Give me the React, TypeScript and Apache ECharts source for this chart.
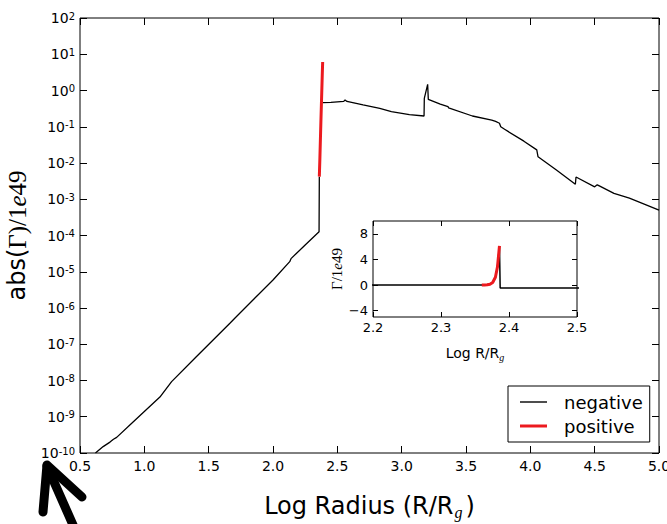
import React, { useEffect, useRef } from "react";
import * as echarts from "echarts";

// Inner region: |Gamma| (negative values), log radius
const innerR = [0.62, 0.68, 0.733, 0.76, 0.785, 0.9, 1.0, 1.121, 1.212, 1.4, 1.665, 1.703, 1.85, 2.0, 2.13, 2.14, 2.25, 2.358, 2.36];
const innerAbsG = [1.0e-10, 1.5e-10, 2.0e-10, 2.4e-10, 2.7e-10, 6.5e-10, 1.4e-9, 3.5e-9, 9.3e-9, 4.4e-8, 3.8e-7, 5.2e-7, 1.74e-6, 5.9e-6, 1.9e-5, 2.3e-5, 5.5e-5, 1.27e-4, 4.2e-3];

// Positive Gamma region
const posR = [2.36, 2.364, 2.368, 2.372, 2.376, 2.38, 2.383, 2.386];
const posG = [0.0042, 0.012, 0.04, 0.13, 0.4, 1.2, 2.8, 6.1];

// Outer region: |Gamma| (negative values)
const outerR = [2.387, 2.45, 2.55, 2.56, 2.575, 2.7, 2.83, 2.92, 3.06, 3.174, 3.176, 3.202, 3.207, 3.3, 3.36, 3.365, 3.55, 3.7, 3.73, 3.76, 3.77, 3.8, 3.95, 4.05, 4.06, 4.2, 4.35, 4.355, 4.5, 4.52, 4.54, 4.65, 4.77, 5.0];
const outerAbsG = [0.46, 0.47, 0.5, 0.55, 0.5, 0.4, 0.32, 0.26, 0.215, 0.198, 0.61, 1.48, 0.57, 0.42, 0.36, 0.33, 0.198, 0.153, 0.14, 0.125, 0.1, 0.085, 0.04, 0.023, 0.0148, 0.0065, 0.0026, 0.0041, 0.0022, 0.0025, 0.0023, 0.00145, 0.00107, 0.0005];

// Axis ticks
const mainXTicks = [0.5, 5.0, 0.5]; // min, max, step
const insetXTicks = [2.2, 2.5, 0.1];
const insetYTicks = [-4, 0, 4, 8];
const insetYRange = [-5, 10];
const legendNames = ["negative", "positive"];

const zip = (xs: number[], ys: number[]) => xs.map((x, i) => [x, ys[i]]);

const innerPts = zip(innerR, innerAbsG);
const outerPts = zip(outerR, outerAbsG);
const posPts = zip(posR, posG);
const fullGamma = [
  ...innerPts.map(([x, v]) => [x, -v]),
  ...posPts,
  ...outerPts.map(([x, v]) => [x, -v]),
];

const BLACK = "#000";
const RED = "#ec1a1f";
const SANS = "DejaVu Sans";
const SERIF = "Liberation Serif";

export default function App() {
  const ref = useRef<HTMLDivElement>(null);
  useEffect(() => {
    const chart = echarts.init(ref.current as HTMLDivElement, null, { renderer: "svg" });
    const tickCommon = { inside: true, length: 7, lineStyle: { color: BLACK, width: 1 } };
    const noLine = { show: false, onZero: false };
    const option: any = {
      animation: false,
      backgroundColor: "#fff",
      textStyle: { fontFamily: SANS },
      grid: [
        { left: 80, top: 18, width: 579, height: 435, show: true, borderColor: BLACK, borderWidth: 1, backgroundColor: "transparent", containLabel: false, outerBoundsMode: "none" },
        { left: 373, top: 221, width: 204, height: 96, show: true, borderColor: BLACK, borderWidth: 1, backgroundColor: "#fff", containLabel: false, outerBoundsMode: "none" },
      ],
      legend: {
        data: [
          { name: legendNames[0], icon: "path://M0,0H27V1.4H0Z" },
          { name: legendNames[1], icon: "path://M0,0H27V3H0Z" },
        ],
        symbolKeepAspect: true,
        orient: "vertical",
        left: 508,
        top: 386,
        padding: [7, 7, 7, 12],
        itemWidth: 27,
        itemHeight: 14,
        itemGap: 6,
        borderColor: BLACK,
        borderWidth: 1,
        borderRadius: 0,
        backgroundColor: "#fff",
        selectedMode: false,
        textStyle: { fontSize: 18, color: BLACK, fontFamily: SANS, padding: [0, 0, 0, 12], lineHeight: 14 },
      },
      xAxis: [
        {
          gridIndex: 0, type: "value", min: mainXTicks[0], max: mainXTicks[1], interval: mainXTicks[2], position: "bottom",
          axisLine: noLine, axisTick: tickCommon, splitLine: { show: false },
          axisLabel: { margin: 6, fontSize: 14, color: BLACK, fontFamily: SANS, showMinLabel: true, showMaxLabel: true, hideOverlap: false, formatter: (v: number) => v.toFixed(1) },
          name: "{n|Log Radius (R/R}{g|g}{n|)}", nameLocation: "middle", nameGap: 43,
          nameTextStyle: {
            rich: {
              n: { fontSize: 24, lineHeight: 24, fontFamily: SANS, color: BLACK, padding: [0, 0, 5, 0] },
              g: { fontSize: 16, lineHeight: 16, fontFamily: SERIF, fontStyle: "italic", color: BLACK, verticalAlign: "bottom", padding: [0, 3, 0, 1] },
            },
          },
        },
        {
          gridIndex: 0, type: "value", min: mainXTicks[0], max: mainXTicks[1], interval: mainXTicks[2], position: "top",
          axisLine: noLine, axisTick: tickCommon, splitLine: { show: false }, axisLabel: { show: false },
        },
        {
          gridIndex: 1, type: "value", min: insetXTicks[0], max: insetXTicks[1], interval: insetXTicks[2], position: "bottom",
          axisLine: noLine, axisTick: { ...tickCommon, length: 5 }, splitLine: { show: false },
          axisLabel: { margin: 4, fontSize: 13, color: BLACK, fontFamily: SANS, showMinLabel: true, showMaxLabel: true, formatter: (v: number) => v.toFixed(1) },
          name: "{n|Log R/R}{g|g}", nameLocation: "middle", nameGap: 31,
          nameTextStyle: {
            rich: {
              n: { fontSize: 14, lineHeight: 14, fontFamily: SANS, color: BLACK, padding: [0, 0, 4, 0] },
              g: { fontSize: 10, lineHeight: 10, fontFamily: SERIF, fontStyle: "italic", color: BLACK, verticalAlign: "bottom" },
            },
          },
        },
        {
          gridIndex: 1, type: "value", min: insetXTicks[0], max: insetXTicks[1], interval: insetXTicks[2], position: "top",
          axisLine: noLine, axisTick: { ...tickCommon, length: 5 }, splitLine: { show: false }, axisLabel: { show: false },
        },
      ],
      yAxis: [
        {
          gridIndex: 0, type: "log", logBase: 10, min: 1e-10, max: 1e2, interval: 1, position: "left",
          axisLine: noLine, axisTick: tickCommon, splitLine: { show: false }, minorTick: { show: false },
          axisLabel: {
            margin: 5, color: BLACK, showMinLabel: true, showMaxLabel: true,
            formatter: (v: number) => "{b|10}{s|" + Math.round(Math.log10(v)) + "}",
            rich: {
              b: { fontSize: 14, lineHeight: 14, fontFamily: SANS, color: BLACK, padding: [4, 0, 4, 0] },
              s: { fontSize: 10, lineHeight: 10, fontFamily: SANS, color: BLACK, verticalAlign: "top" },
            },
          },
          name: "{a|abs(}{b|Γ)/1}{c|e}{b|49}", nameLocation: "middle", nameRotate: 90, nameGap: 37,
          nameTextStyle: {
            rich: {
              a: { fontSize: 24, fontFamily: SANS, color: BLACK },
              b: { fontSize: 25, fontFamily: SERIF, color: BLACK },
              c: { fontSize: 25, fontFamily: SERIF, fontStyle: "italic", color: BLACK },
            },
          },
        },
        {
          gridIndex: 0, type: "log", logBase: 10, min: 1e-10, max: 1e2, interval: 1, position: "right",
          axisLine: noLine, axisTick: tickCommon, splitLine: { show: false }, axisLabel: { show: false },
        },
        {
          gridIndex: 1, type: "value", min: insetYRange[0], max: insetYRange[1], position: "left",
          axisLine: noLine, splitLine: { show: false },
          axisTick: { ...tickCommon, length: 5, customValues: insetYTicks },
          axisLabel: {
            customValues: insetYTicks, margin: 5, fontSize: 13, color: BLACK, fontFamily: SANS,
            formatter: (v: number) => (v < 0 ? "\u2212" + -v : String(v)),
          },
          name: "{b|Γ/1}{i|e}{b|49}", nameLocation: "middle", nameRotate: 90, nameGap: 22,
          nameTextStyle: {
            rich: {
              b: { fontSize: 15, fontFamily: SERIF, color: BLACK },
              i: { fontSize: 15, fontFamily: SERIF, fontStyle: "italic", color: BLACK },
            },
          },
        },
        {
          gridIndex: 1, type: "value", min: insetYRange[0], max: insetYRange[1], position: "right",
          axisLine: noLine, splitLine: { show: false },
          axisTick: { ...tickCommon, length: 5, customValues: insetYTicks },
          axisLabel: { show: false },
        },
      ],
      series: [
        { name: "negative", type: "line", xAxisIndex: 0, yAxisIndex: 0, data: innerPts, symbol: "none", color: BLACK, lineStyle: { color: BLACK, width: 1.3 }, z: 3 },
        { name: "positive", type: "line", xAxisIndex: 0, yAxisIndex: 0, data: posPts, symbol: "none", color: RED, lineStyle: { color: RED, width: 3 }, z: 4 },
        { name: "negative", type: "line", xAxisIndex: 0, yAxisIndex: 0, data: outerPts, symbol: "none", color: BLACK, lineStyle: { color: BLACK, width: 1.3 }, z: 3 },
        { name: "negative", type: "line", xAxisIndex: 2, yAxisIndex: 2, data: fullGamma, symbol: "none", color: BLACK, lineStyle: { color: BLACK, width: 1.5 }, z: 5 },
        { name: "positive", type: "line", xAxisIndex: 2, yAxisIndex: 2, data: posPts, symbol: "none", color: RED, lineStyle: { color: RED, width: 3 }, z: 6 },
      ],
      graphic: [
        { type: "polyline", z: 100, shape: { points: [[43, 512], [47, 465], [82, 497]] }, style: { stroke: BLACK, fill: null, lineWidth: 9, lineCap: "round", lineJoin: "round" } },
        { type: "line", z: 100, shape: { x1: 47, y1: 466, x2: 77, y2: 534 }, style: { stroke: BLACK, lineWidth: 9, lineCap: "round" } },
      ],
    };
    chart.setOption(option);
    return () => chart.dispose();
  }, []);
  return <div ref={ref} style={{ position: "fixed", left: 0, top: 0, width: 667, height: 524, background: "#fff" }} />;
}
